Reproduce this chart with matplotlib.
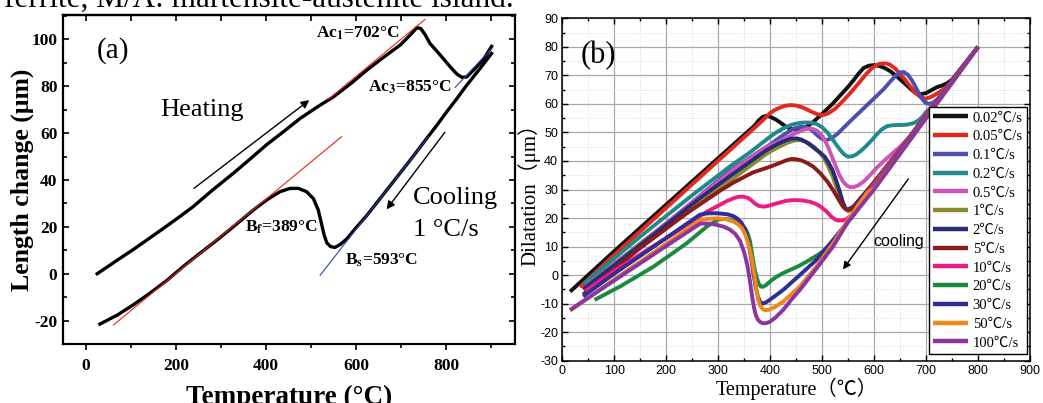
import numpy as np
import matplotlib
matplotlib.use("Agg")
import matplotlib.pyplot as plt
from matplotlib.ticker import MultipleLocator

plt.rcParams['mathtext.fontset'] = 'stix'
plt.rcParams['axes.unicode_minus'] = False

SERIF = ['Liberation Serif', 'Noto Sans CJK SC', 'DejaVu Serif']
SANS = ['Liberation Sans', 'DejaVu Sans']

# ---------------- panel (a): 1 C/s heating and cooling ----------------
heat_T = [25, 65, 105, 140, 179, 210, 238, 280, 327, 365, 401, 440, 476, 515, 550, 590, 624, 660,
          698, 720, 735, 744, 754, 764, 787, 809, 824, 835, 846, 861, 883, 901]
heat_v = [0, 5.2, 10.3, 15.0, 20.3, 24.6, 28.6, 35.5, 42.8, 49, 55, 60.8, 66.3, 71.3, 75.5, 81.4, 86.9, 92.2,
          97.6, 101.8, 105.0, 104.6, 101.8, 98.3, 93.3, 88.3, 85.2, 83.8, 84.0, 86.9, 91.5, 97]

cool_T = [901, 875, 846, 823, 801, 780, 760, 728, 698, 660, 624, 610, 595, 580, 565, 553, 543, 535,
          529, 523, 516, 505, 490, 472, 453, 431, 401, 372, 327, 290, 253, 215, 179, 140, 105, 70, 31]
cool_v = [94, 87.5, 80.5, 74.5, 69, 63.5, 58.5, 50.4, 43.0, 33.7, 24.9, 21.8, 18.5, 15, 12.5, 11.2, 11.6, 13.2,
          16.5, 21.5, 27.2, 32.1, 35, 36.4, 36.4, 35, 31.4, 27.2, 20, 14.2, 8.7, 2.9, -3.0, -8.6, -13.3, -17.6, -21.5]

# tangent lines (start, end)
red_tan1_T = [538, 753]
red_tan1_v = [74.4, 108.5]
red_tan2_T = [61, 568]
red_tan2_v = [-21.9, 58.5]
blue_tan1_T = [820, 898]
blue_tan1_v = [79.5, 95.4]
blue_tan2_T = [520, 761]
blue_tan2_v = [-0.7, 58.5]

# ---------------- panel (b): dilatation curves ----------------
rates = ['0.02', '0.05', '0.1', '0.2', '0.5', '1', '2', '5', '10', '20', '30', '50', '100']
colors = ['#111111', '#e2291f', '#4a4fb0', '#1f8a8a', '#cc55b8', '#8a8a2e', '#2a2a7a',
          '#8b1a1a', '#ea1e82', '#1a8a3e', '#2e2e96', '#f08518', '#8c35a0']

T_002 = [800, 750, 740, 730, 720, 710, 700, 690, 680, 670, 660, 650, 640, 630, 620, 610, 600, 590, 580, 570,
         560, 550, 540, 520, 500, 480, 470, 460, 450, 440, 430, 420, 410, 400, 393, 386, 378, 370, 300, 200, 100, 15]
v_002 = [80, 68.5, 67.2, 66.4, 65.8, 64.8, 63.8, 63.4, 63.8, 65.3, 67.0, 68.6, 70.2, 71.6, 72.6, 73.3, 73.6, 73.4, 72.6, 70.6,
         68.2, 66.0, 64.0, 60.0, 56.5, 53.2, 52.0, 51.3, 51.0, 51.2, 52.1, 53.4, 54.6, 55.5, 55.8, 55.5, 54.2, 52.4, 41.0, 24.7, 8.4, -5.8]

T_005 = [800, 750, 740, 730, 720, 710, 700, 690, 680, 670, 660, 650, 640, 630, 622, 612, 603, 595, 585, 570,
         555, 540, 525, 512, 502, 492, 480, 470, 460, 450, 440, 430, 420, 410, 400, 390, 370, 300, 200, 100, 34]
v_005 = [80, 68, 66, 64.7, 63.5, 62.5, 61.8, 62.3, 63.8, 66.0, 68.4, 70.6, 72.5, 73.8, 74.2, 74.1, 73.5, 72.4, 70.5, 67.2,
         64.0, 61.0, 58.3, 56.7, 56.1, 56.3, 57.2, 58.1, 58.9, 59.4, 59.6, 59.4, 58.8, 58.0, 56.8, 55.0, 51.6, 40.1, 23.6, 7.1, -4.2]

T_01 = [800, 750, 735, 722, 712, 705, 698, 690, 682, 673, 665, 657, 650, 642, 632, 620, 605, 590, 575, 560,
        545, 530, 520, 512, 505, 498, 490, 480, 470, 460, 450, 440, 420, 400, 322, 200, 100, 44]
v_01 = [80, 68.2, 64.5, 61.6, 60.3, 60.0, 60.5, 62.4, 65.2, 68.2, 70.2, 71.2, 71.0, 70.0, 68.0, 65.5, 62.8, 60.2, 57.6, 55.0,
        52.3, 49.6, 48.2, 47.5, 47.4, 47.9, 49.1, 50.8, 51.8, 52.0, 51.6, 50.8, 48.4, 45.8, 36.5, 18, 4, -4]

T_02 = [800, 750, 710, 700, 692, 684, 675, 665, 655, 645, 635, 625, 615, 605, 595, 585, 575, 565, 557, 550,
        543, 536, 528, 520, 510, 500, 490, 480, 470, 460, 450, 440, 425, 410, 400, 361, 322, 250, 150, 42]
v_02 = [80, 68.2, 58.8, 57.2, 55.3, 54.0, 53.2, 52.8, 52.6, 52.6, 52.5, 52.2, 51.1, 49.3, 47.2, 45.3, 43.6, 42.2, 41.6, 41.5,
        42.2, 43.6, 45.5, 47.6, 50.0, 51.8, 52.9, 53.4, 53.5, 53.4, 53.1, 52.6, 51.4, 49.8, 48.5, 43, 38, 28, 13.5, -3]

T_05 = [800, 750, 700, 692, 680, 665, 650, 635, 620, 605, 592, 580, 570, 562, 555, 548, 541, 534, 527, 520,
        513, 506, 498, 490, 482, 475, 467, 457, 445, 425, 393, 329, 250, 150, 42]
v_05 = [80, 68.2, 56.5, 54.5, 51.2, 47.8, 45.0, 42.6, 40.2, 37.6, 35.0, 32.8, 31.5, 30.9, 30.8, 31.3, 32.6, 34.8, 37.8, 41.0,
        44.2, 47.0, 49.3, 50.6, 51.2, 51.3, 51.1, 50.4, 49.4, 47.5, 45, 37, 25.5, 11, -4.5]

T_1 = [800, 750, 700, 650, 600, 565, 556, 550, 545, 540, 534, 527, 520, 512, 504, 496, 486, 475, 465, 457,
       447, 435, 420, 405, 393, 330, 265, 150, 45]
v_1 = [80, 68, 56, 44, 32.5, 24.5, 22.8, 22.4, 23.3, 25.0, 27.6, 31.0, 34.6, 38.0, 40.8, 42.8, 44.7, 46.2, 47.0, 47.3,
       47.2, 46.5, 45.2, 43.8, 42.5, 34, 25.5, 11, -4.5]

T_2 = [800, 750, 700, 650, 600, 560, 550, 545, 540, 534, 527, 520, 512, 505, 497, 489, 480, 470, 460, 451,
       440, 430, 415, 393, 329, 265, 150, 40]
v_2 = [80, 68, 56, 44, 32.5, 24, 23.0, 23.2, 25.5, 29.2, 33.2, 36.8, 39.5, 41.5, 42.8, 43.9, 45.2, 46.5, 47.5, 47.9,
       47.8, 47.2, 46.0, 43.8, 35.5, 27, 10.5, -5]

T_5 = [800, 750, 700, 650, 600, 570, 560, 553, 546, 540, 532, 521, 510, 496, 483, 470, 460, 450, 441, 432,
       420, 400, 367, 330, 303, 239, 150, 40]
v_5 = [80, 68, 56, 44, 32.5, 25.2, 23.6, 22.9, 23.0, 24.0, 26.4, 29.8, 32.8, 35.8, 38.0, 39.4, 40.2, 40.6, 40.7, 40.3,
       39.4, 38, 36, 32.5, 29.5, 21.6, 9.5, -6.8]

T_10 = [800, 750, 700, 650, 600, 570, 560, 547, 540, 531, 524, 516, 509, 500, 490, 477, 460, 445, 430, 412,
        395, 387, 379, 372, 365, 358, 348, 338, 329, 315, 303, 278, 200, 100, 45]
v_10 = [80, 67.8, 55.8, 44, 32, 25, 21.5, 19.6, 19.2, 19.1, 19.6, 20.8, 22.2, 23.6, 24.8, 25.7, 26.2, 26.3, 26, 25.1,
        24.2, 24, 24.2, 24.9, 26.0, 27.0, 27.5, 27.4, 26.9, 25.8, 24.6, 22.2, 13, 1.5, -5.5]

T_20 = [800, 750, 700, 650, 600, 560, 530, 509, 496, 483, 470, 455, 438, 425, 412, 400, 392, 386, 382, 378,
        374, 370, 367, 364, 361, 357, 352, 346, 340, 333, 325, 315, 300, 278, 239, 175, 111, 62]
v_20 = [80, 67.5, 55.5, 43.3, 31, 21, 14, 9.4, 7.6, 6.1, 4.7, 3.2, 1.8, 0.7, -0.6, -2.2, -3.5, -4.1, -4.0, -3.0,
        -0.8, 2.2, 5.3, 8.8, 12.0, 14.5, 16.3, 17.5, 18.4, 19.0, 19.4, 19.7, 19.5, 17, 11.1, 2.9, -4, -8.7]

T_30 = [800, 750, 700, 650, 600, 560, 521, 489, 457, 425, 405, 395, 388, 384, 380, 376, 372, 368, 365, 361,
        357, 352, 345, 337, 329, 318, 303, 290, 278, 265, 200, 100, 40]
v_30 = [80, 67.5, 55.3, 43, 30.8, 21, 12.3, 5.3, 0, -5.2, -7.9, -9.2, -9.9, -10.0, -9.2, -7.2, -4.0, 0.2, 4.0, 8.6,
        12.6, 15.8, 18.3, 19.8, 20.7, 21.3, 21.6, 21.7, 21.6, 21.2, 13, 0.5, -7.5]

T_50 = [800, 750, 700, 650, 600, 586, 554, 521, 489, 457, 425, 408, 398, 391, 386, 381, 377, 374, 371, 367,
        363, 358, 352, 345, 337, 329, 315, 297, 280, 265, 200, 100, 15]
v_50 = [80, 67.4, 55, 42.6, 30.5, 28.7, 20.5, 11.1, 3, -4, -9.3, -11.3, -12.1, -12.3, -12.0, -10.8, -8.6, -5.5, -1.7, 3.0,
        7.2, 11.0, 14.3, 16.6, 18.0, 18.8, 19.6, 19.9, 19.7, 19.3, 11, -1.5, -12.5]

T_100 = [800, 750, 700, 650, 600, 550, 521, 490, 457, 440, 425, 410, 400, 393, 387, 381, 376, 372, 369, 366,
         363, 360, 356, 350, 342, 333, 323, 310, 297, 285, 278, 265, 200, 100, 15]
v_100 = [80, 67.4, 55, 42.5, 30, 18.7, 10, 2.5, -5.2, -8.8, -12.2, -14.9, -16.3, -16.8, -16.9, -16.5, -15.5, -13.8, -11.5, -8.3,
         -4.5, -0.8, 3.5, 8.0, 12.0, 14.4, 15.9, 17.0, 17.6, 18.0, 18.1, 18.0, 10.2, -1.9, -12.2]

curves_T = [T_002, T_005, T_01, T_02, T_05, T_1, T_2, T_5, T_10, T_20, T_30, T_50, T_100]
curves_v = [v_002, v_005, v_01, v_02, v_05, v_1, v_2, v_5, v_10, v_20, v_30, v_50, v_100]

fig = plt.figure(figsize=(10.43, 4.03), dpi=100)

# clipped caption line from the page above
fig.text(0.004, 1 - 7 / 403, "ferrite, M/A: martensite-austenite island.", fontsize=22.5,
         family=SERIF, va='baseline', ha='left')

# ---------- (a) ----------
ax1 = fig.add_axes([63 / 1043, 1 - 344 / 403, (515 - 63) / 1043, (344 - 15) / 403])
ax1.plot(heat_T, heat_v, color='black', lw=2.4, solid_joinstyle='round')
ax1.plot(cool_T, cool_v, color='black', lw=2.4, solid_joinstyle='round')
ax1.plot(red_tan1_T, red_tan1_v, color='#e8231a', lw=0.8)
ax1.plot(red_tan2_T, red_tan2_v, color='#e8231a', lw=0.8)
ax1.plot(blue_tan1_T, blue_tan1_v, color='#3040b0', lw=0.8)
ax1.plot(blue_tan2_T, blue_tan2_v, color='#3040b0', lw=0.8)

ax1.annotate('', xy=(501, 74.8), xytext=(235, 35.7),
             arrowprops=dict(arrowstyle='-|>', color='black', lw=1, mutation_scale=12))
ax1.annotate('', xy=(664, 26.5), xytext=(801, 61.3),
             arrowprops=dict(arrowstyle='-|>', color='black', lw=1, mutation_scale=12))

ax1.text(24, 95.4, '(a)', fontsize=21, family=SERIF, va='center', ha='left')
ax1.text(164, 69.8, 'Heating', fontsize=19, family=SERIF, va='center', ha='left')
ax1.text(727, 32.2, 'Cooling', fontsize=19, family=SERIF, va='center', ha='left')
ax1.text(727, 18.6, '1 °C/s', fontsize=19, family=SERIF, va='center', ha='left')
ax1.text(511, 102.8, r'Ac$_\mathbf{1}$=702°C', fontsize=12.5, family=SERIF, weight='bold', va='center')
ax1.text(627, 79.5, r'Ac$_\mathbf{3}$=855°C', fontsize=12.5, family=SERIF, weight='bold', va='center')
ax1.text(353, 20, r'B$_\mathbf{f}$=389°C', fontsize=12.5, family=SERIF, weight='bold', va='center')
ax1.text(575, 5.8, r'B$_\mathbf{s}$=593°C', fontsize=12.5, family=SERIF, weight='bold', va='center')

ax1.set_xlim(-51, 953)
ax1.set_ylim(-30, 110.4)
ax1.xaxis.set_major_locator(MultipleLocator(200))
ax1.xaxis.set_minor_locator(MultipleLocator(100))
ax1.yaxis.set_major_locator(MultipleLocator(20))
ax1.yaxis.set_minor_locator(MultipleLocator(10))
ax1.tick_params(axis='x', which='both', direction='out', length=4, width=1.2, pad=6)
ax1.tick_params(axis='x', which='minor', length=3)
ax1.tick_params(axis='y', which='both', direction='in', length=4, width=1.2, right=True, pad=4)
ax1.tick_params(axis='y', which='minor', length=3)
for lab in ax1.get_xticklabels() + ax1.get_yticklabels():
    lab.set_fontfamily(SERIF)
    lab.set_fontweight('bold')
    lab.set_fontsize(12.5)
for s in ax1.spines.values():
    s.set_linewidth(1.6)
top1 = ax1.secondary_xaxis('top')
top1.xaxis.set_major_locator(MultipleLocator(200))
top1.xaxis.set_minor_locator(MultipleLocator(100))
top1.tick_params(which='both', direction='in', length=4, width=1.2, labeltop=False)
top1.spines['top'].set_linewidth(1.6)

ax1.set_ylabel('Length change (μm)', fontsize=18.5, family=SERIF, weight='bold', labelpad=-2)
ax1.set_xlabel('Temperature (°C)', fontsize=19.5, family=SERIF, weight='bold', labelpad=8)

# ---------- (b) ----------
ax2 = fig.add_axes([562.3 / 1043, 1 - 360.7 / 403, (1030 - 562.3) / 1043, (360.7 - 18.3) / 403])
for T, v, c, r in zip(curves_T, curves_v, colors, rates):
    ax2.plot(T, v, color=c, lw=2.8, solid_joinstyle='round', solid_capstyle='butt',
             label=r + '℃/s')

ax2.annotate('', xy=(537, 1.2), xytext=(669, 34.5),
             arrowprops=dict(arrowstyle='-|>', color='black', lw=1, mutation_scale=11))
ax2.text(648, 11.7, 'cooling', fontsize=11.5, family=SANS, ha='center', va='center')
ax2.text(69, 77.1, '(b)', fontsize=22, family=SERIF, ha='center', va='center')

ax2.set_xlim(0, 900)
ax2.set_ylim(-30, 90)
ax2.xaxis.set_major_locator(MultipleLocator(100))
ax2.xaxis.set_minor_locator(MultipleLocator(50))
ax2.yaxis.set_major_locator(MultipleLocator(10))
ax2.yaxis.set_minor_locator(MultipleLocator(5))
ax2.grid(which='major', color='#a9a9a9', lw=0.9, ls='-')
ax2.grid(which='minor', color='#d6d6d6', lw=0.7, ls=':')
ax2.set_axisbelow(True)
ax2.tick_params(which='both', direction='in', top=True, right=True, width=1, pad=3)
ax2.tick_params(which='major', length=4)
ax2.tick_params(which='minor', length=2.5)
for lab in ax2.get_xticklabels() + ax2.get_yticklabels():
    lab.set_fontfamily(SANS)
    lab.set_fontsize(9)
for s in ax2.spines.values():
    s.set_linewidth(1.1)

ax2.set_xlabel('Temperature（℃）', fontsize=14.5, family=SERIF, labelpad=1)
ax2.set_ylabel('Dilatation（μm）', fontsize=15, family=SERIF, labelpad=0)

leg = ax2.legend(loc='upper right', bbox_to_anchor=(0.9936, 0.741), borderaxespad=0,
                 prop={'family': SERIF, 'size': 10.5}, frameon=True, fancybox=False,
                 edgecolor='black', framealpha=1, handlelength=2.4, handletextpad=0.3,
                 labelspacing=0.38, borderpad=0.3)
leg.get_frame().set_linewidth(1)
for h in leg.get_lines():
    h.set_linewidth(3.2)

fig.savefig('out.png', dpi=100)
